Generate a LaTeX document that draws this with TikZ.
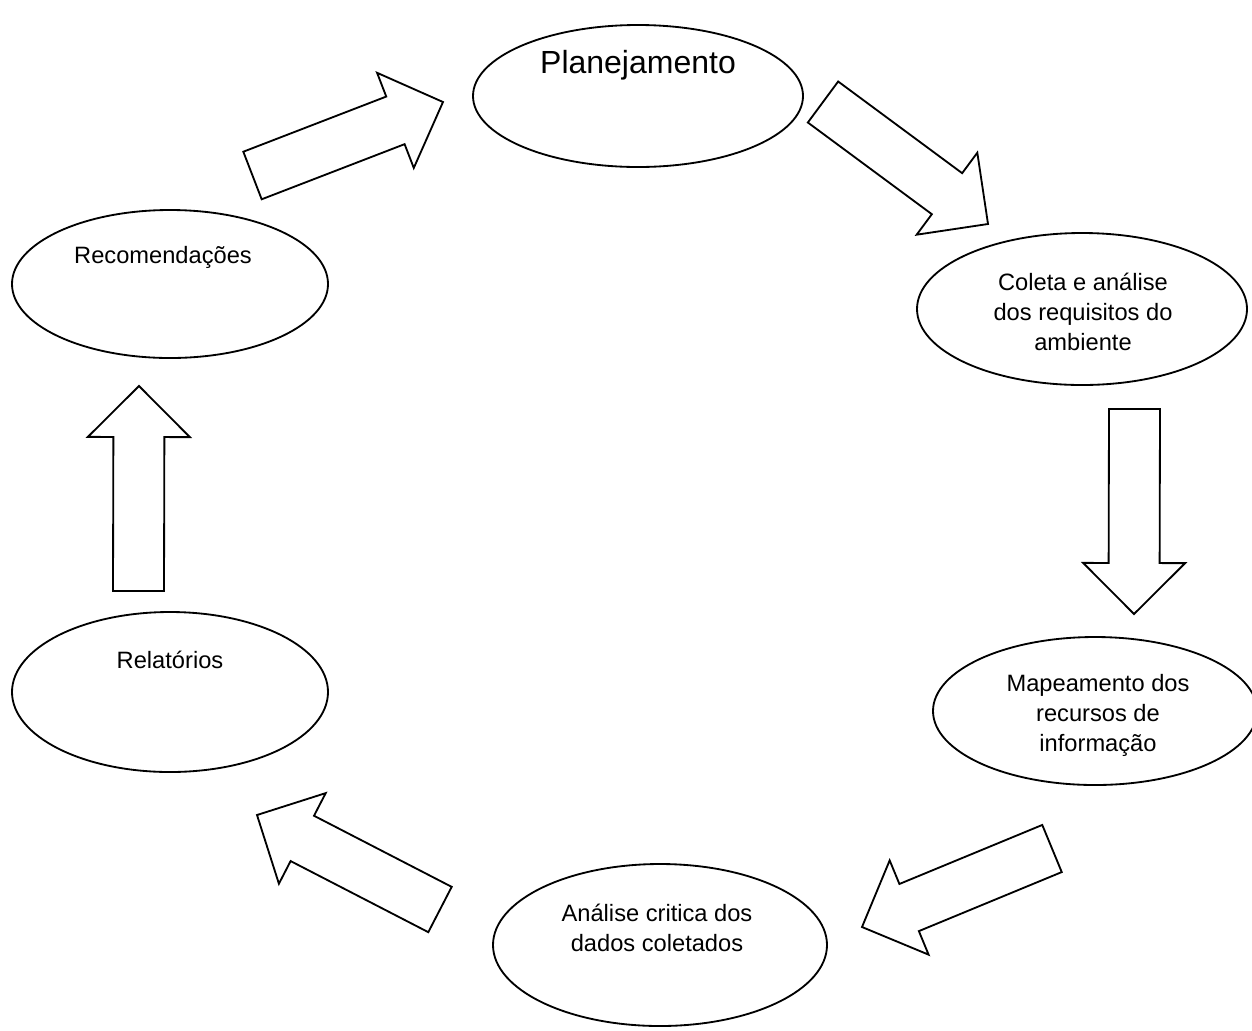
\documentclass[tikz,border=0pt]{standalone}
\usepackage{fontspec}
\setmainfont{Liberation Sans}
\usetikzlibrary{shapes.geometric}
\usetikzlibrary{calc}

% hollow block arrow from tail centre #1 to tip #2
\newcommand\blockarrow[2]{%
  \coordinate (hb) at ($(#2)!30.6pt!(#1)$);
  \draw[blockarr] ($(#1)!15.3pt!90:(#2)$) -- ($(hb)!15.3pt!90:(#2)$)
    -- ($(hb)!30.6pt!90:(#2)$) -- (#2) -- ($(hb)!30.6pt!-90:(#2)$)
    -- ($(hb)!15.3pt!-90:(#2)$) -- ($(#1)!15.3pt!-90:(#2)$) -- cycle;}

\begin{document}
\begin{tikzpicture}[x=0.6pt,y=-0.6pt,
  stage/.style={draw,ellipse,line width=1.1pt,inner sep=0pt},
  txt/.style={align=center,font=\fontsize{14.2}{18}\selectfont},
  blockarr/.style={draw,line width=1.1pt,line join=miter}]
  \useasboundingbox (0,0) rectangle (1252,1030);

  \node[stage,minimum width=198pt,minimum height=85.2pt] (plan) at (638,96){};
  \node[stage,minimum width=198pt,minimum height=91.2pt] (coleta) at (1082,309){};
  \node[stage,minimum width=194.4pt,minimum height=88.8pt] (mapa) at (1095,711){};
  \node[stage,minimum width=200.4pt,minimum height=97.2pt] (analise) at (660,945){};
  \node[stage,minimum width=189.6pt,minimum height=96pt] (relat) at (170,692){};
  \node[stage,minimum width=189.6pt,minimum height=88.8pt] (recom) at (170,284){};

  \node[txt,font=\fontsize{19.2}{23}\selectfont] (planT) at (638,65){Planejamento};
  \node[txt] (coletaT) at (1083,312){Coleta e análise\\dos requisitos do\\ambiente};
  \node[txt] (mapaT) at (1098,715){Mapeamento dos\\recursos de\\informação};
  \node[txt] (analiseT) at (657,928){Análise critica dos\\dados coletados};
  \node[txt] (relatT) at (170,660){Relatórios};
  \node[txt] (recomT) at (163,257){Recomendações};

  \coordinate (a1) at (252.5,175.5); \coordinate (b1) at (443,102);
  \coordinate (a2) at (823,102);     \coordinate (b2) at (988,224);
  \coordinate (a3) at (1134.5,409);  \coordinate (b3) at (1134,614);
  \coordinate (a4) at (1052,848.5);  \coordinate (b4) at (862,927);
  \coordinate (a5) at (440,909.5);   \coordinate (b5) at (257,815);
  \coordinate (a6) at (138.5,591);   \coordinate (b6) at (139,386);

  \blockarrow{a1}{b1}
  \blockarrow{a2}{b2}
  \blockarrow{a3}{b3}
  \blockarrow{a4}{b4}
  \blockarrow{a5}{b5}
  \blockarrow{a6}{b6}
\end{tikzpicture}
\end{document}
